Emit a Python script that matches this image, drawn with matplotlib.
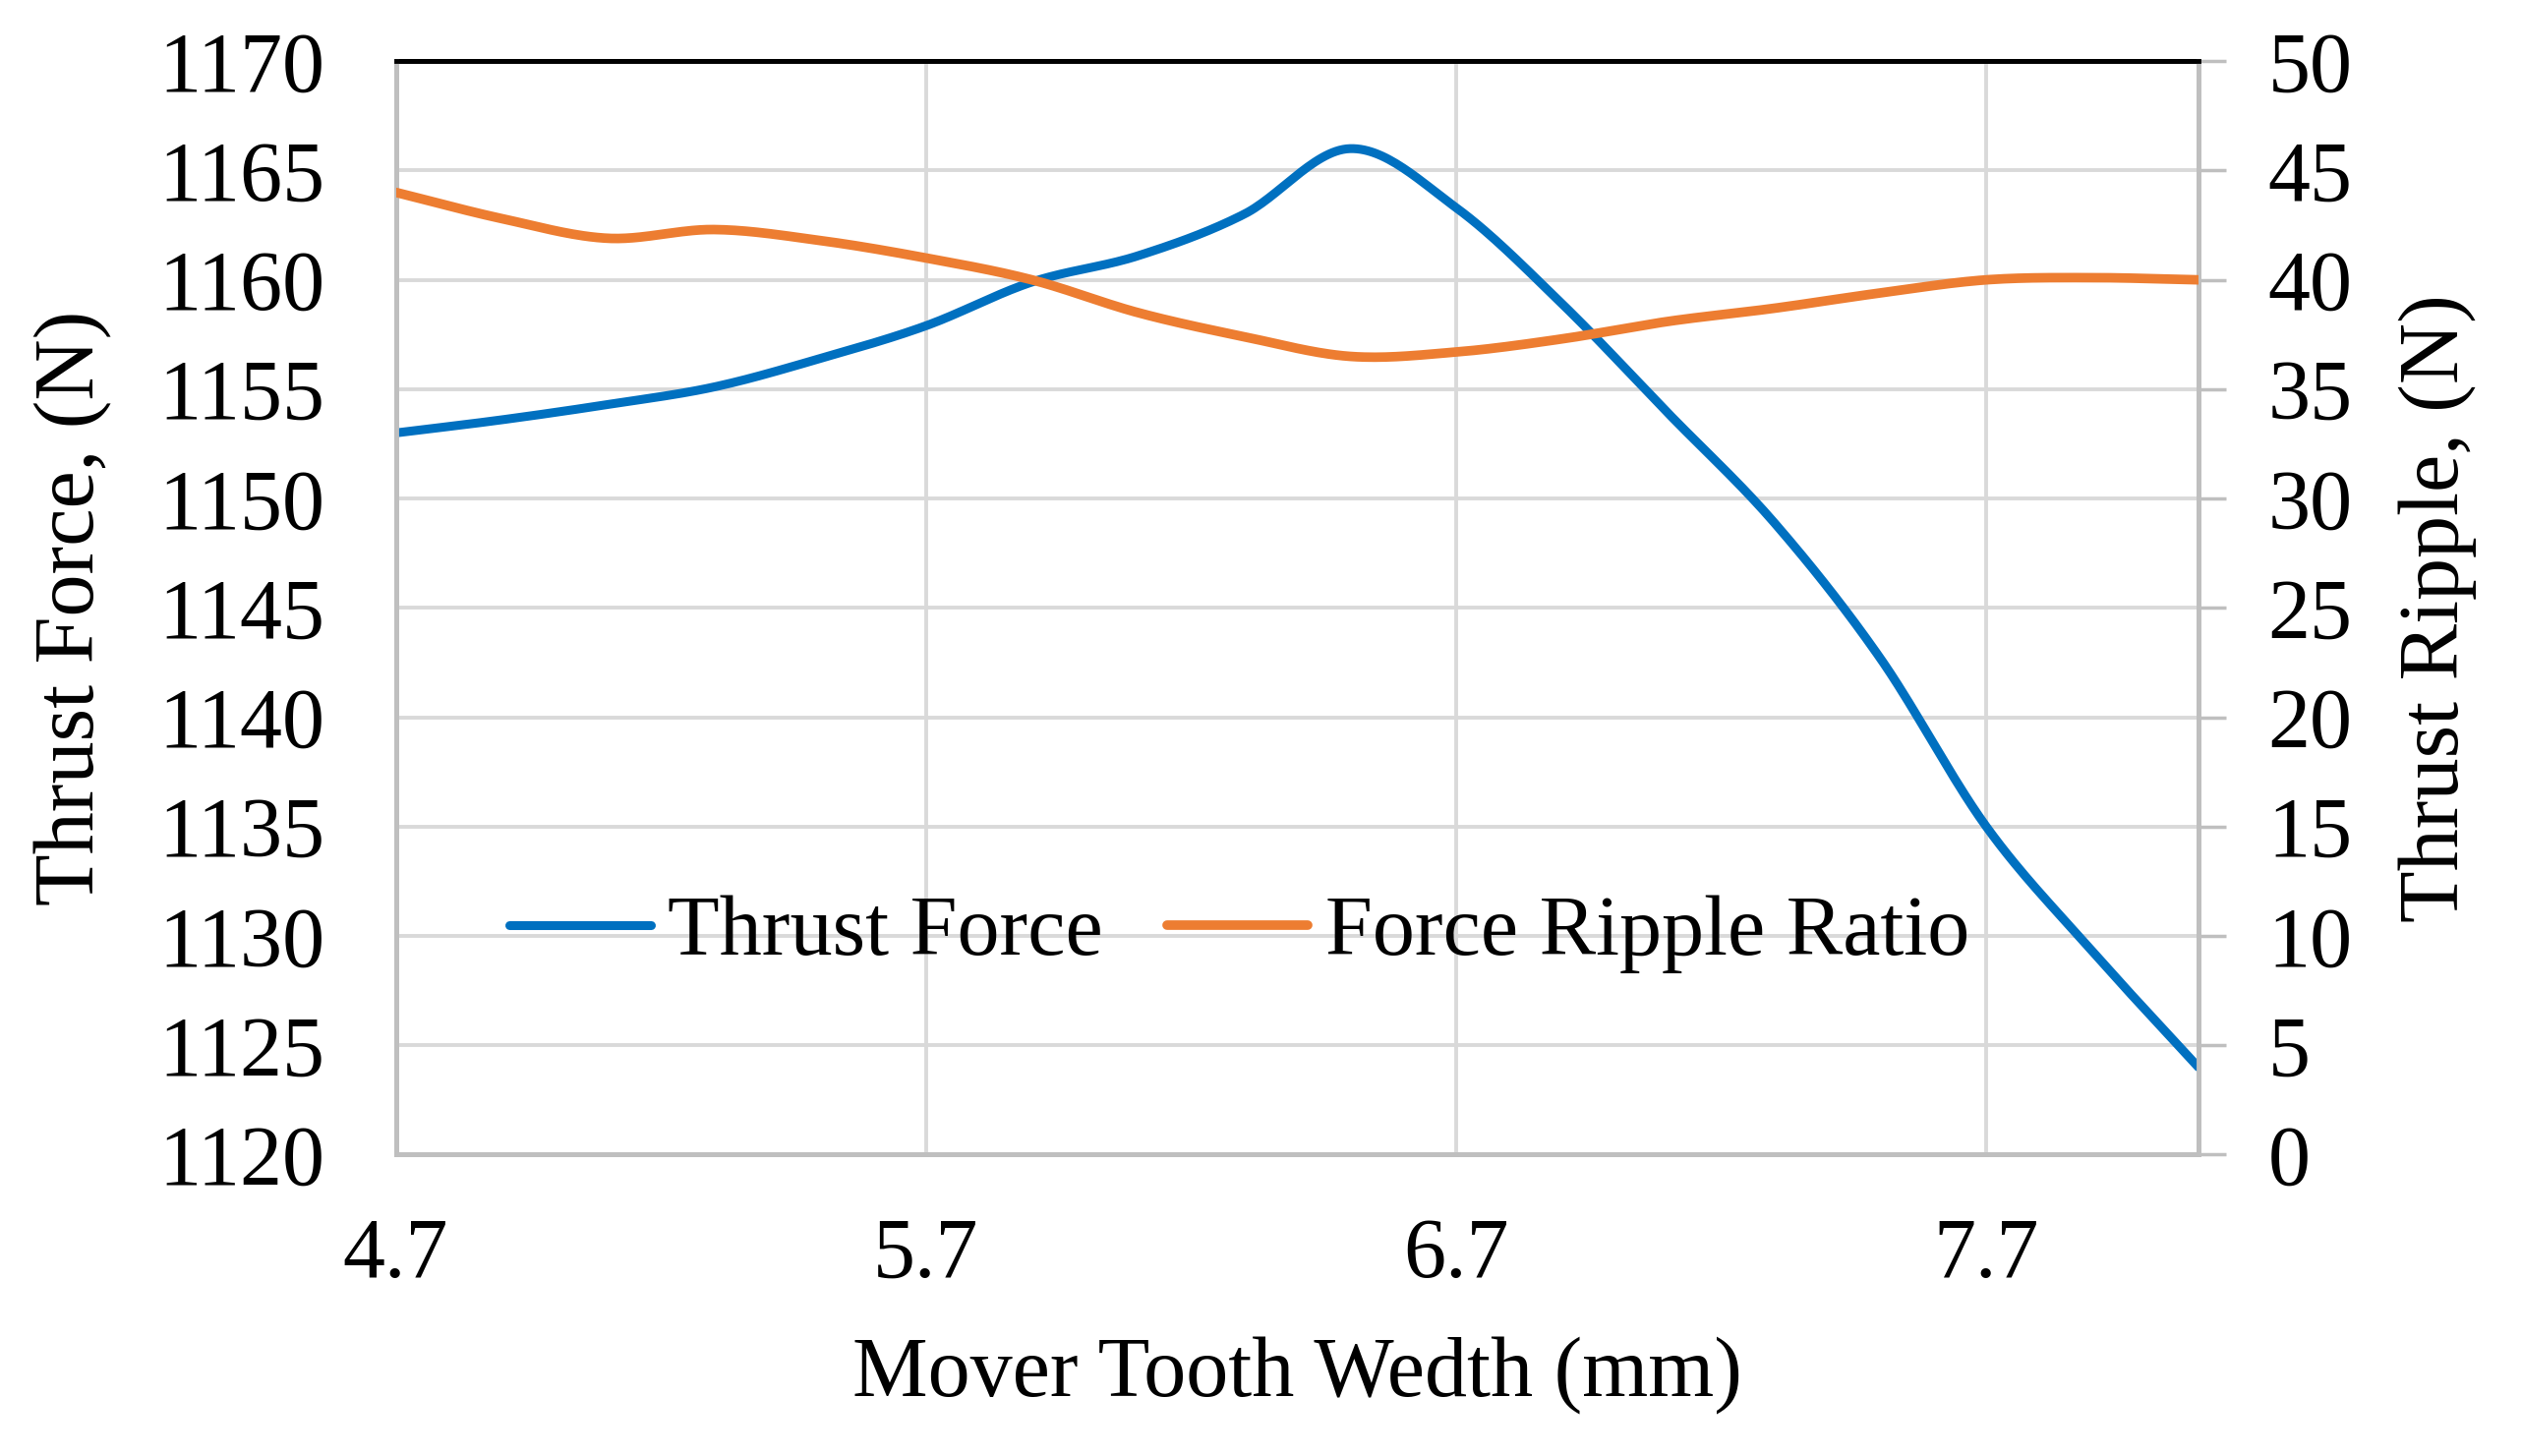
import numpy as np
import matplotlib
matplotlib.use("Agg")
import matplotlib.pyplot as plt

plt.rcParams['font.family'] = ['Liberation Serif', 'DejaVu Serif']

# ---- data ----
tooth_width = [4.7, 4.9, 5.1, 5.3, 5.5, 5.7, 5.9, 6.1, 6.3, 6.5, 6.7, 6.9, 7.1, 7.3, 7.5, 7.7, 7.9, 8.1]
thrust_force = [1153.0, 1153.6, 1154.3, 1155.1, 1156.4, 1157.9, 1159.9, 1161.1, 1163.0, 1166.0,
                1163.3, 1158.9, 1153.9, 1148.9, 1142.7, 1135.0, 1129.3, 1124.0]
ripple = [44.0, 42.8, 41.9, 42.3, 41.8, 41.0, 40.0, 38.5, 37.4, 36.5,
          36.7, 37.3, 38.1, 38.7, 39.4, 40.0, 40.1, 40.0]
x_ticks = [4.7, 5.7, 6.7, 7.7]
left_ticks = list(range(1120, 1171, 5))
right_ticks = list(range(0, 51, 5))


def smooth(x, y, n=30):
    """Catmull-Rom spline through the points (similar to Excel's smoothed line)."""
    x = np.asarray(x, float)
    y = np.asarray(y, float)
    px = np.concatenate([[2 * x[0] - x[1]], x, [2 * x[-1] - x[-2]]])
    py = np.concatenate([[2 * y[0] - y[1]], y, [2 * y[-1] - y[-2]]])
    xs, ys = [], []
    t = np.linspace(0, 1, n, endpoint=False)
    for i in range(1, len(px) - 2):
        p0x, p1x, p2x, p3x = px[i - 1:i + 3]
        p0y, p1y, p2y, p3y = py[i - 1:i + 3]
        for (a, b, c, d, out) in ((p0x, p1x, p2x, p3x, xs), (p0y, p1y, p2y, p3y, ys)):
            out.extend(0.5 * ((2 * b) + (-a + c) * t + (2 * a - 5 * b + 4 * c - d) * t ** 2
                              + (-a + 3 * b - 3 * c + d) * t ** 3))
    xs.append(x[-1])
    ys.append(y[-1])
    return np.array(xs), np.array(ys)


fig = plt.figure(figsize=(25.64, 14.81), dpi=100)
ax = fig.add_axes([0.157, 0.207, 0.715, 0.751])
ax2 = ax.twinx()

blue = '#0070C0'
orange = '#ED7D31'
grid_c = '#D9D9D9'
spine_c = '#BFBFBF'

sx, sy = smooth(tooth_width, thrust_force)
l1, = ax.plot(sx, sy, color=blue, lw=6.5, solid_capstyle='round', label='Thrust Force', zorder=3)
rx, ry = smooth(tooth_width, ripple)
l2, = ax2.plot(rx, ry, color=orange, lw=7, solid_capstyle='round', label='Force Ripple Ratio', zorder=3)

ax.set_xlim(4.7, 8.1)
ax.set_ylim(1120, 1170)
ax2.set_ylim(0, 50)
ax.set_xticks(x_ticks)
ax.set_xticklabels([f'{v:.1f}' for v in x_ticks])
ax.set_yticks(left_ticks)
ax2.set_yticks(right_ticks)

ax.grid(True, color=grid_c, lw=2.8, zorder=0)
ax.set_axisbelow(True)

fs = 62
ax.tick_params(axis='both', labelsize=fs, length=0)
ax.tick_params(axis='x', pad=46)
ax.tick_params(axis='y', pad=52)
ax2.tick_params(axis='y', labelsize=fs, length=20, width=2.5, color=spine_c, pad=31)

for a in (ax, ax2):
    for s in ('left', 'right', 'bottom'):
        a.spines[s].set_color(spine_c)
        a.spines[s].set_linewidth(3.5)
    a.spines['top'].set_color('black')
    a.spines['top'].set_linewidth(3.5)

ax.set_xlabel('Mover Tooth Wedth (mm)', fontsize=fs, labelpad=30)
ax.set_ylabel('Thrust Force, (N)', fontsize=fs, labelpad=34)
ax2.set_ylabel('Thrust Ripple, (N)', fontsize=fs, labelpad=34)

leg = ax.legend(handles=[l1, l2], loc='center', bbox_to_anchor=(0.468, 0.2015),
                ncol=2, frameon=False, fontsize=fs, handlelength=1.67,
                handletextpad=0.2, columnspacing=0.75)

fig.savefig('out.png', dpi=100, facecolor='white')
